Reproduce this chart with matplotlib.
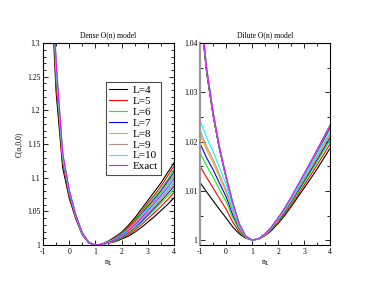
import matplotlib
matplotlib.use("Agg")
import matplotlib.pyplot as plt
from matplotlib.ticker import MultipleLocator

plt.rcParams['font.family'] = ['Liberation Serif', 'DejaVu Serif']

n1 = [-1, -0.75, -0.5, -0.25, 0, 0.25, 0.5, 0.75, 1,
      1.25, 1.5, 1.75, 2, 2.25, 2.5, 2.75, 3, 3.25, 3.5, 3.75, 4]

labels = ['L=4', 'L=5', 'L=6', 'L=7', 'L=8', 'L=9', 'L=10']
colors = ['#000000', '#ff0000', '#00ff00', '#0000ff', '#ffa500', '#bc8f8f', '#00ffff']

# Dense O(n) model
dense_exact = [1.800, 1.500, 1.272, 1.137, 1.082, 1.045, 1.018, 1.004, 1.000,
               1.001, 1.004, 1.008, 1.014, 1.021, 1.030, 1.040, 1.051, 1.062, 1.073, 1.085, 1.098]
dense_lower = [
    [1.700, 1.430, 1.227, 1.115, 1.070, 1.039, 1.015, 1.003, 1.000,
     1.001, 1.003, 1.005, 1.009, 1.013, 1.019, 1.026, 1.034, 1.042, 1.051, 1.060, 1.070],
    [1.728, 1.450, 1.240, 1.121, 1.073, 1.041, 1.016, 1.003, 1.000,
     1.001, 1.003, 1.006, 1.010, 1.015, 1.022, 1.030, 1.039, 1.048, 1.057, 1.067, 1.078],
    [1.748, 1.464, 1.249, 1.126, 1.076, 1.042, 1.016, 1.003, 1.000,
     1.001, 1.003, 1.006, 1.011, 1.017, 1.024, 1.033, 1.043, 1.052, 1.062, 1.072, 1.083],
    [1.762, 1.473, 1.255, 1.129, 1.077, 1.043, 1.017, 1.004, 1.000,
     1.001, 1.004, 1.007, 1.012, 1.018, 1.026, 1.035, 1.045, 1.055, 1.065, 1.076, 1.087],
    [1.773, 1.481, 1.260, 1.131, 1.079, 1.043, 1.017, 1.004, 1.000,
     1.001, 1.004, 1.008, 1.013, 1.019, 1.027, 1.037, 1.047, 1.057, 1.067, 1.078, 1.090],
    [1.780, 1.486, 1.263, 1.133, 1.080, 1.044, 1.017, 1.004, 1.000,
     1.001, 1.004, 1.008, 1.013, 1.020, 1.028, 1.038, 1.048, 1.058, 1.069, 1.080, 1.092],
    [1.787, 1.491, 1.266, 1.134, 1.080, 1.044, 1.018, 1.004, 1.000,
     1.001, 1.004, 1.008, 1.013, 1.021, 1.029, 1.039, 1.049, 1.059, 1.070, 1.082, 1.094],
]
dense_upper = [
    [1.750, 1.465, 1.252, 1.127, 1.077, 1.043, 1.017, 1.004, 1.000,
     1.0015, 1.006, 1.012, 1.019, 1.029, 1.040, 1.053, 1.066, 1.079, 1.092, 1.107, 1.122],
    [1.764, 1.475, 1.258, 1.130, 1.078, 1.044, 1.017, 1.004, 1.000,
     1.001, 1.005, 1.011, 1.018, 1.027, 1.037, 1.049, 1.062, 1.074, 1.087, 1.102, 1.117],
    [1.774, 1.482, 1.262, 1.132, 1.079, 1.044, 1.017, 1.004, 1.000,
     1.001, 1.005, 1.010, 1.017, 1.025, 1.035, 1.047, 1.059, 1.071, 1.083, 1.097, 1.112],
    [1.781, 1.487, 1.264, 1.133, 1.080, 1.044, 1.018, 1.004, 1.000,
     1.001, 1.005, 1.010, 1.016, 1.024, 1.034, 1.045, 1.057, 1.068, 1.080, 1.094, 1.108],
    [1.786, 1.491, 1.267, 1.134, 1.081, 1.044, 1.018, 1.004, 1.000,
     1.001, 1.005, 1.009, 1.015, 1.023, 1.033, 1.044, 1.055, 1.066, 1.078, 1.091, 1.105],
    [1.790, 1.493, 1.268, 1.135, 1.081, 1.045, 1.018, 1.004, 1.000,
     1.001, 1.004, 1.009, 1.015, 1.023, 1.032, 1.043, 1.054, 1.065, 1.077, 1.090, 1.103],
    [1.793, 1.495, 1.269, 1.136, 1.081, 1.045, 1.018, 1.004, 1.000,
     1.001, 1.004, 1.009, 1.015, 1.022, 1.031, 1.042, 1.053, 1.064, 1.075, 1.088, 1.101],
]

# Dilute O(n) model
dilute_exact = [1.0480, 1.0350, 1.0259, 1.0188, 1.0129, 1.0077, 1.0033, 1.0008, 1.0,
                1.0003, 1.0013, 1.0027, 1.0045, 1.0065, 1.0087, 1.0111, 1.0135, 1.0159, 1.0184, 1.0209, 1.0234]
dilute_lower = [
    [1.0117, 1.0098, 1.0080, 1.0062, 1.0045, 1.0027, 1.0013, 1.0004, 1.0,
     1.0002, 1.0009, 1.0020, 1.0034, 1.0050, 1.0068, 1.0087, 1.0106, 1.0125, 1.0145, 1.0166, 1.0187],
    [1.0150, 1.0127, 1.0106, 1.0084, 1.0063, 1.0037, 1.0017, 1.0005, 1.0,
     1.0002, 1.0010, 1.0022, 1.0036, 1.0053, 1.0071, 1.0091, 1.0112, 1.0132, 1.0153, 1.0174, 1.0196],
    [1.0177, 1.0151, 1.0128, 1.0102, 1.0078, 1.0046, 1.0021, 1.0005, 1.0,
     1.0002, 1.0010, 1.0023, 1.0038, 1.0056, 1.0075, 1.0096, 1.0117, 1.0138, 1.0159, 1.0181, 1.0204],
    [1.0196, 1.0167, 1.0143, 1.0115, 1.0088, 1.0052, 1.0024, 1.0006, 1.0,
     1.0003, 1.0011, 1.0024, 1.0040, 1.0058, 1.0078, 1.0099, 1.0121, 1.0142, 1.0164, 1.0186, 1.0209],
    [1.0214, 1.0183, 1.0157, 1.0127, 1.0097, 1.0058, 1.0026, 1.0006, 1.0,
     1.0003, 1.0011, 1.0025, 1.0041, 1.0060, 1.0080, 1.0102, 1.0124, 1.0146, 1.0168, 1.0191, 1.0214],
    [1.0223, 1.0190, 1.0164, 1.0133, 1.0102, 1.0061, 1.0027, 1.0007, 1.0,
     1.0003, 1.0012, 1.0026, 1.0042, 1.0061, 1.0082, 1.0104, 1.0126, 1.0148, 1.0171, 1.0194, 1.0217],
    [1.0243, 1.0208, 1.0180, 1.0146, 1.0113, 1.0067, 1.0030, 1.0007, 1.0,
     1.0003, 1.0012, 1.0026, 1.0043, 1.0063, 1.0084, 1.0106, 1.0129, 1.0152, 1.0175, 1.0198, 1.0222],
]
dilute_upper = [
    [1.0465, 1.0340, 1.0252, 1.0183, 1.0126, 1.0075, 1.0032, 1.0008, 1.0,
     1.0003, 1.0013, 1.0027, 1.0044, 1.0064, 1.0085, 1.0108, 1.0132, 1.0156, 1.0180, 1.0204, 1.0229],
    [1.0470, 1.0343, 1.0254, 1.0184, 1.0127, 1.0076, 1.0032, 1.0008, 1.0,
     1.0003, 1.0013, 1.0027, 1.0044, 1.0064, 1.0086, 1.0109, 1.0133, 1.0157, 1.0181, 1.0206, 1.0231],
    [1.0473, 1.0345, 1.0256, 1.0185, 1.0127, 1.0076, 1.0033, 1.0008, 1.0,
     1.0003, 1.0013, 1.0027, 1.0045, 1.0065, 1.0086, 1.0110, 1.0134, 1.0158, 1.0182, 1.0207, 1.0232],
    [1.0475, 1.0347, 1.0257, 1.0186, 1.0128, 1.0076, 1.0033, 1.0008, 1.0,
     1.0003, 1.0013, 1.0027, 1.0045, 1.0065, 1.0086, 1.0110, 1.0134, 1.0158, 1.0182, 1.0207, 1.0232],
    [1.0477, 1.0348, 1.0258, 1.0187, 1.0128, 1.0077, 1.0033, 1.0008, 1.0,
     1.0003, 1.0013, 1.0027, 1.0045, 1.0065, 1.0087, 1.0110, 1.0134, 1.0158, 1.0183, 1.0208, 1.0233],
    [1.0478, 1.0349, 1.0258, 1.0187, 1.0129, 1.0077, 1.0033, 1.0008, 1.0,
     1.0003, 1.0013, 1.0027, 1.0045, 1.0065, 1.0087, 1.0111, 1.0135, 1.0159, 1.0183, 1.0208, 1.0233],
    [1.0479, 1.0349, 1.0259, 1.0188, 1.0129, 1.0077, 1.0033, 1.0008, 1.0,
     1.0003, 1.0013, 1.0027, 1.0045, 1.0065, 1.0087, 1.0111, 1.0135, 1.0159, 1.0184, 1.0209, 1.0234],
]

fig = plt.figure(figsize=(3.74, 2.89), dpi=100)
ax1 = fig.add_axes([0.115, 0.152, 0.350, 0.699])
ax2 = fig.add_axes([0.535, 0.152, 0.348, 0.699])

lw = 0.8
for i in range(len(labels)):
    ax1.plot(n1, dense_lower[i], color=colors[i], lw=lw, label=labels[i])
    ax1.plot(n1, dense_upper[i], color=colors[i], lw=lw)
    ax2.plot(n1, dilute_lower[i], color=colors[i], lw=lw)
    ax2.plot(n1, dilute_upper[i], color=colors[i], lw=lw)
ax1.plot(n1, dense_exact, color='#ff00ff', lw=lw, label='Exact')
ax2.plot(n1, dilute_exact, color='#ff00ff', lw=lw)

ax1.set_xlim(-1, 4)
ax1.set_ylim(1.0, 1.3)
ax1.set_yticks([1.0, 1.05, 1.1, 1.15, 1.2, 1.25, 1.3])
ax1.set_yticklabels(['1', '1.05', '1.1', '1.15', '1.2', '1.25', '1.3'])
ax1.yaxis.set_minor_locator(MultipleLocator(0.01))

ax2.set_xlim(-1, 4)
ax2.set_ylim(0.999, 1.04)
ax2.set_yticks([1.0, 1.01, 1.02, 1.03, 1.04])
ax2.set_yticklabels(['1', '1.01', '1.02', '1.03', '1.04'])
ax2.yaxis.set_minor_locator(MultipleLocator(0.005))
ax2.spines['left'].set_color('0.6')
ax2.spines['left'].set_linewidth(1.6)

for ax, title in [(ax1, 'Dense O(n) model'), (ax2, 'Dilute O(n) model')]:
    ax.set_xticks([-1, 0, 1, 2, 3, 4])
    ax.set_xticklabels(['-1', '0', '1', '2', '3', '4'])
    ax.xaxis.set_minor_locator(MultipleLocator(0.5))
    ax.tick_params(which='both', direction='in', top=True, right=True,
                   labelsize=5.5, width=0.6, pad=2)
    ax.tick_params(which='major', length=3.5)
    ax.tick_params(which='minor', length=2)
    ax.set_title(title, fontsize=5.5, pad=4)
    ax.set_xlabel('n$_1$', fontsize=5.5, labelpad=2)
    for s in ['top', 'right', 'bottom']:
        ax.spines[s].set_linewidth(0.8)

ax1.spines['left'].set_linewidth(0.8)
ax1.set_ylabel('C(α,0,0)', fontsize=5.5, labelpad=3)

leg = ax1.legend(loc='upper left', bbox_to_anchor=(0.44, 0.835), fontsize=8,
                 handlelength=1.6, handletextpad=0.5, labelspacing=0.1,
                 borderpad=0.3, fancybox=False, framealpha=1)
leg.get_frame().set_edgecolor('0.3')
leg.get_frame().set_linewidth(0.8)

fig.savefig('out.png', dpi=100)
